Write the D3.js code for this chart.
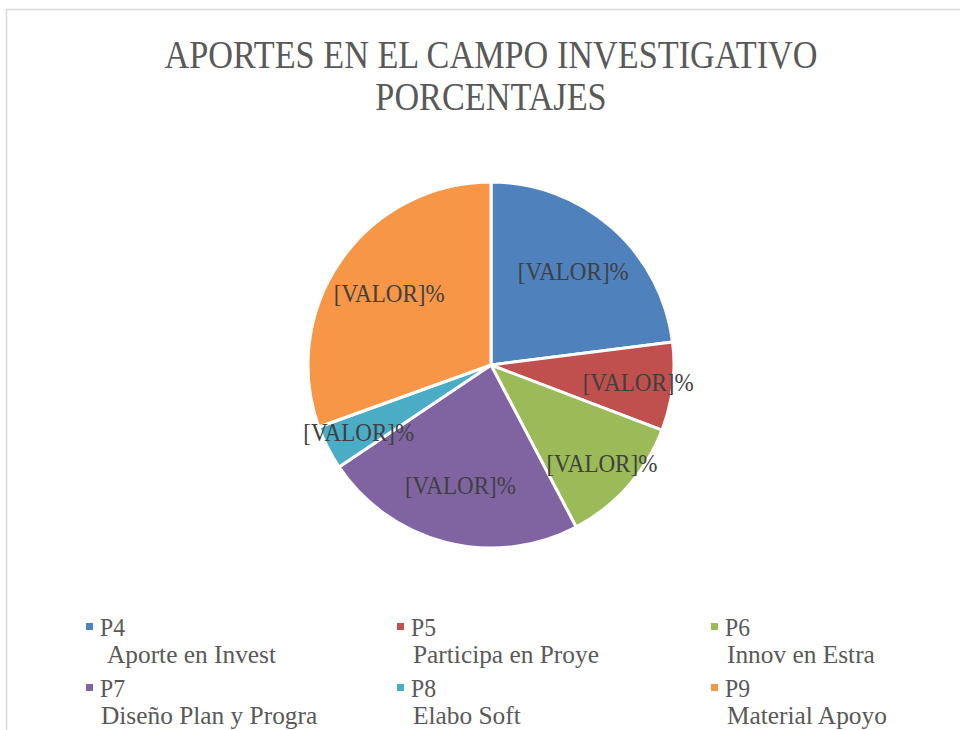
<!DOCTYPE html>
<html>
<head>
<meta charset="utf-8">
<script src="https://cdn.jsdelivr.net/npm/d3@7"></script>
<style>
  body { margin: 0; background: #fff; }
  svg { display: block; }
</style>
</head>
<body>
<div id="chart"></div>
<script>
//Datos
const codigos = ['P4', 'P5', 'P6', 'P7', 'P8', 'P9'];
const nombres = ['Aporte en Invest', 'Participa en Proye', 'Innov en Estra', 'Diseño Plan y Progra', 'Elabo Soft', 'Material Apoyo'];
const valores = [23, 7.8, 11.5, 23.3, 3.9, 30.5];
const etiqueta = '[VALOR]%';
const titulo = ['APORTES EN EL CAMPO INVESTIGATIVO', 'PORCENTAJES'];

//Colores fijos
const COLORES = ['#4F81BD', '#C0504D', '#9BBB59', '#8064A2', '#4BACC6', '#F79646'];
const FUENTE = '"Liberation Serif", "DejaVu Serif", serif';

let width = 960, height = 730;

let svg = d3.select('#chart')
    .append('svg')
    .attr('width', width)
    .attr('height', height);

//Borde del area del grafico
svg.append('rect')
    .attr('x', 6.5).attr('y', 9.5)
    .attr('width', width).attr('height', height)
    .attr('fill', '#fff')
    .attr('stroke', '#d9d9d9')
    .attr('stroke-width', 1.5);

//Condensa un grupo de textos con el factor que ajusta el primero a su ancho
function condensa(sel, anchoPrimero) {
    let factor = anchoPrimero / sel.node().getComputedTextLength();
    sel.each(function() {
        let w = this.getComputedTextLength();
        d3.select(this)
            .attr('textLength', w * factor)
            .attr('lengthAdjust', 'spacingAndGlyphs');
    });
}

//Titulo
let tituloG = svg.append('g')
    .attr('font-family', FUENTE)
    .attr('fill', '#595959')
    .attr('font-size', 41)
    .attr('text-anchor', 'middle');

let tLineas = tituloG.selectAll('text')
    .data(titulo)
    .enter()
    .append('text')
    .attr('x', 491)
    .attr('y', function(d, i) { return 68 + i * 42; })
    .text(function(d) { return d; });
condensa(tLineas, 653);

//Tarta
let cx = 491, cy = 365, r = 183;

let pie = d3.pie()
    .sort(null)
    .value(function(d) { return d; });

let arcos = pie(valores);

let arc = d3.arc().innerRadius(0).outerRadius(r);

let g = svg.append('g')
    .attr('transform', 'translate(' + cx + ',' + cy + ')');

g.selectAll('path')
    .data(arcos)
    .enter()
    .append('path')
    .attr('d', arc)
    .attr('fill', function(d, i) { return COLORES[i]; })
    .attr('stroke', '#fff')
    .attr('stroke-width', 3)
    .attr('stroke-linejoin', 'round');

//Etiquetas de datos
function radioEtiqueta(d) {
    return (d.endAngle - d.startAngle) > 1.2 ? r * 0.68 : r * 0.81;
}

let labels = g.selectAll('.label')
    .data(arcos)
    .enter()
    .append('text')
    .attr('class', 'label')
    .attr('font-family', FUENTE)
    .attr('font-size', 25)
    .attr('fill', '#404040')
    .attr('text-anchor', 'middle')
    .attr('dy', '0.35em')
    .attr('x', function(d) {
        let a = (d.startAngle + d.endAngle) / 2;
        return Math.sin(a) * radioEtiqueta(d);
    })
    .attr('y', function(d) {
        let a = (d.startAngle + d.endAngle) / 2;
        return -Math.cos(a) * radioEtiqueta(d);
    })
    .text(etiqueta);
condensa(labels, 111);

//Leyenda
let colX = [86, 397, 711];
let leyenda = svg.append('g')
    .attr('font-family', FUENTE)
    .attr('font-size', 25)
    .attr('fill', '#595959');

let items = leyenda.selectAll('g')
    .data(codigos)
    .enter()
    .append('g')
    .attr('transform', function(d, i) {
        return 'translate(' + colX[i % 3] + ',' + (636 + Math.floor(i / 3) * 61) + ')';
    });

items.append('rect')
    .attr('x', 0).attr('y', -13)
    .attr('width', 7).attr('height', 7)
    .attr('fill', function(d, i) { return COLORES[i]; });

let t2 = items.append('text')
    .attr('x', function(d, i) { return i === 0 ? 21 : (i === 3 ? 15 : 16); })
    .attr('y', 27)
    .text(function(d, i) { return nombres[i]; });
condensa(t2, 169);

let t1 = items.append('text')
    .attr('x', 14)
    .text(function(d) { return d; });
condensa(t1, 25);
</script>
</body>
</html>
